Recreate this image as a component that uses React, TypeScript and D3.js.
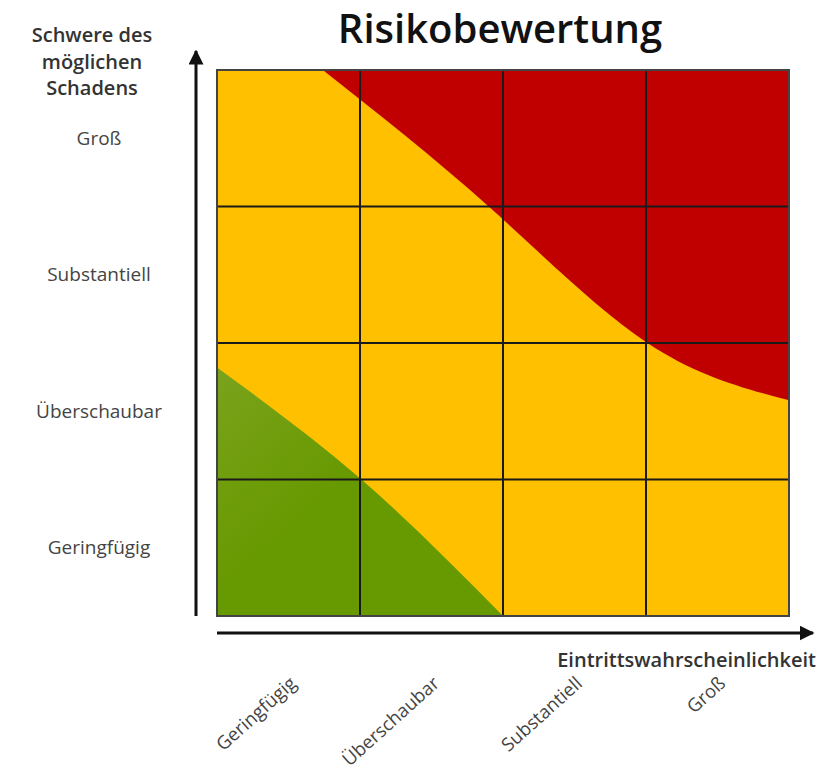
import React, { useRef, useEffect } from "react";
import * as d3 from "d3";

// Achsenkategorien
const severity = ["Geringfügig", "Überschaubar", "Substantiell", "Groß"];
const likelihood = ["Geringfügig", "Überschaubar", "Substantiell", "Groß"];

// Grenze rot/gelb (x = Wahrscheinlichkeit 0..4, y = Schwere 0..4)
const redX = [0.74, 1.9, 3.01, 4.0];
const redY = [4.0, 3.0, 2.0, 1.58];

// Grenze grün/gelb
const greenX = [0.0, 1.01, 2.0];
const greenY = [1.82, 1.0, 0.0];

const W = 839;
const H = 771;
const font = "'Open Sans', 'Noto Sans', sans-serif";

const App = () => {
    const ref = useRef<SVGSVGElement>(null);

    useEffect(() => {
        const svg = d3.select(ref.current);
        svg.selectAll("*").remove();

        const left = 217, right = 789, top = 70, bottom = 616;
        const n = likelihood.length;

        const x = d3.scaleLinear().domain([0, n]).range([left, right]);
        const y = d3.scaleLinear().domain([0, severity.length]).range([bottom, top]);

        const defs = svg.append("defs");
        defs.append("clipPath").attr("id", "clip")
            .append("rect")
            .attr("x", x(0)).attr("y", y(4))
            .attr("width", x(4) - x(0)).attr("height", y(0) - y(4));

        const plot = svg.append("g").attr("clip-path", "url(#clip)");

        // Hintergrund gelb
        plot.append("rect")
            .attr("x", x(0)).attr("y", y(4))
            .attr("width", x(4) - x(0)).attr("height", y(0) - y(4))
            .attr("fill", "#FFC000");

        // roter Bereich
        const redPts = redX.map((v, i) => [v, redY[i]]);
        const redArea = d3.area<number[]>()
            .x(d => x(d[0]))
            .y0(y(4) - 5)
            .y1(d => y(d[1]))
            .curve(d3.curveNatural);
        plot.append("path").attr("d", redArea(redPts)).attr("fill", "#C00000");

        // grüner Bereich
        const grad = defs.append("linearGradient").attr("id", "gr")
            .attr("x1", "0").attr("y1", "0").attr("x2", "1").attr("y2", "1");
        grad.append("stop").attr("offset", "0").attr("stop-color", "#7AA31C");
        grad.append("stop").attr("offset", "0.45").attr("stop-color", "#679900");
        const greenPts = greenX.map((v, i) => [v, greenY[i]]);
        const greenArea = d3.area<number[]>()
            .x(d => x(d[0]))
            .y0(y(0) + 5)
            .y1(d => y(d[1]))
            .curve(d3.curveNatural);
        plot.append("path").attr("d", greenArea(greenPts)).attr("fill", "url(#gr)");

        // Gitter
        for (let i = 1; i < n; i++) {
            svg.append("line")
                .attr("x1", x(i)).attr("x2", x(i))
                .attr("y1", y(0)).attr("y2", y(4))
                .attr("stroke", "#1a1a1a").attr("stroke-width", 2);
            svg.append("line")
                .attr("x1", x(0)).attr("x2", x(4))
                .attr("y1", y(i)).attr("y2", y(i))
                .attr("stroke", "#1a1a1a").attr("stroke-width", 2);
        }
        svg.append("rect")
            .attr("x", x(0)).attr("y", y(4))
            .attr("width", x(4) - x(0)).attr("height", y(0) - y(4))
            .attr("fill", "none").attr("stroke", "#444").attr("stroke-width", 2);

        // Pfeile
        defs.append("marker").attr("id", "arr")
            .attr("viewBox", "0 0 10 10").attr("refX", 9).attr("refY", 5)
            .attr("markerWidth", 5).attr("markerHeight", 5)
            .attr("orient", "auto")
            .append("path").attr("d", "M0,0 L10,5 L0,10 z").attr("fill", "#111");

        svg.append("line")
            .attr("x1", 196).attr("x2", 196).attr("y1", y(0)).attr("y2", 51)
            .attr("stroke", "#111").attr("stroke-width", 3).attr("marker-end", "url(#arr)");
        svg.append("line")
            .attr("x1", x(0)).attr("x2", 813).attr("y1", 633).attr("y2", 633)
            .attr("stroke", "#111").attr("stroke-width", 3).attr("marker-end", "url(#arr)");

        // Titel
        svg.append("text")
            .attr("x", 500).attr("y", 43)
            .attr("text-anchor", "middle")
            .attr("font-family", font).attr("font-size", 40).attr("font-weight", 600)
            .attr("fill", "#111")
            .text("Risikobewertung");

        // Y-Achsentitel
        ["Schwere des", "möglichen", "Schadens"].forEach((t, i) => {
            svg.append("text")
                .attr("x", 92).attr("y", 42 + i * 26.5)
                .attr("text-anchor", "middle")
                .attr("font-family", font).attr("font-size", 20).attr("font-weight", 600)
                .attr("fill", "#333")
                .text(t);
        });

        // Y-Ticklabels
        severity.forEach((t, i) => {
            svg.append("text")
                .attr("x", 99).attr("y", y(i + 0.5))
                .attr("dy", "0.35em")
                .attr("text-anchor", "middle")
                .attr("font-family", font).attr("font-size", 19)
                .attr("fill", "#444")
                .text(t);
        });

        // X-Achsentitel
        svg.append("text")
            .attr("x", 816).attr("y", 667)
            .attr("text-anchor", "end")
            .attr("font-family", font).attr("font-size", 20).attr("font-weight", 600)
            .attr("fill", "#333")
            .text("Eintrittswahrscheinlichkeit");

        // X-Ticklabels
        likelihood.forEach((t, i) => {
            const cx = x(i + 0.5) + 9;
            svg.append("text")
                .attr("transform", `translate(${cx},685) rotate(-42)`)
                .attr("text-anchor", "end")
                .attr("font-family", font).attr("font-size", 18.5)
                .attr("fill", "#444")
                .text(t);
        });
    }, []);

    return (
        <svg ref={ref} width={W} height={H}
            style={{ position: "absolute", left: 0, top: 0, background: "#fff" }}></svg>
    );
};

export default App;
